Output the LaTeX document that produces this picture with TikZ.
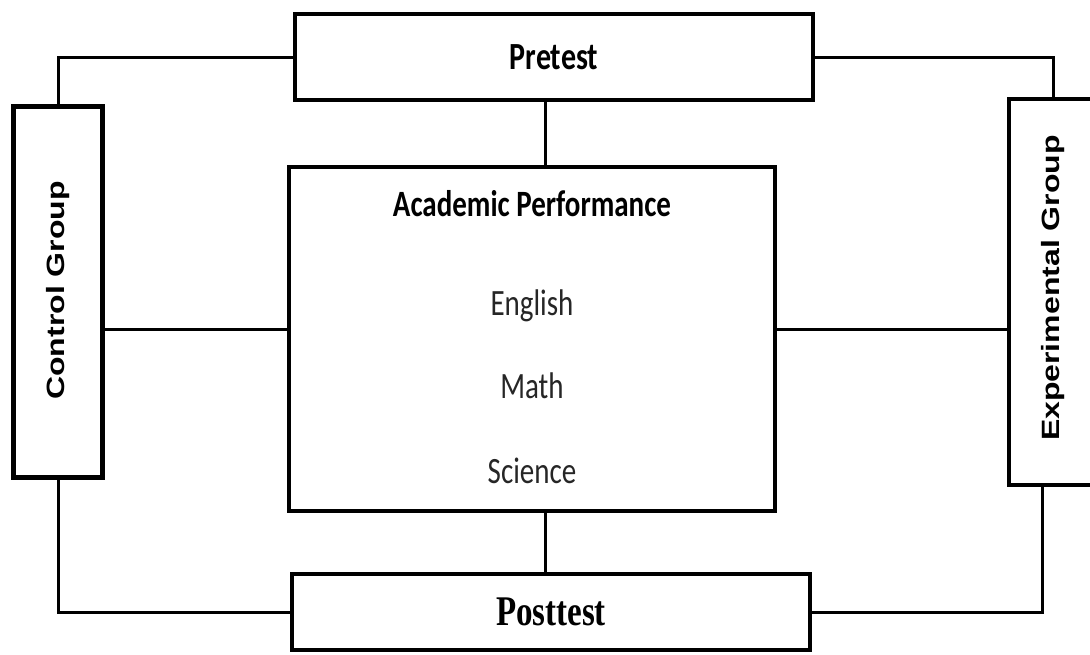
\documentclass[tikz,border=0pt]{standalone}
\usepackage{fontspec}
\usepackage{graphicx}
\newfontfamily\calib{Carlito}
\newfontfamily\arialf{Liberation Sans}
\newfontfamily\timesf{Liberation Serif}
\newcommand{\tall}[1]{\scalebox{1}[1.28]{#1}}
\newcommand{\upright}[1]{\scalebox{1}[1.28]{\rotatebox{90}{#1}}}
\tikzset{box/.style={rectangle,draw,line width=4.5pt,inner sep=0pt,align=center},side/.style={box,font=\arialf\bfseries\fontsize{25}{25}\selectfont},subject/.style={text=black!85,font=\calib\fontsize{29}{29}\selectfont},line/.style={line width=3pt}}

\begin{document}
\begin{tikzpicture}[x=1pt,y=-1pt]
\path[use as bounding box,clip] (0,0) rectangle (1090,654);
\node[box,minimum width=518pt,minimum height=86pt,font=\calib\bfseries\fontsize{30}{30}\selectfont] (pre) at (554,57) {\tall{Pretest}};
\node[box,minimum width=486pt,minimum height=344pt] (ap) at (532,339) {};
\node[box,minimum width=518pt,minimum height=76pt,font=\timesf\bfseries\fontsize{33}{33}\selectfont] (post) at (551,612) {\tall{Posttest}};
\node[side,minimum width=89pt,minimum height=371pt] (ctrl) at (58,292) {\raisebox{3pt}{\upright{Control Group}}};
\node[side,minimum width=88pt,minimum height=386pt] (exp) at (1053,292) {\raisebox{8pt}{\upright{Experimental Group}}};
% contents of the middle box
\node[font=\calib\bfseries\fontsize{29}{29}\selectfont] (title) at (532,204) {\tall{Academic Performance}};
\node[subject] (eng) at (532,306) {\tall{English}};
\node[subject] (math) at (532,386) {\tall{Math}};
\node[subject] (sci) at (532,471) {\tall{Science}};
% connectors
\coordinate (mid) at (545,329);
\draw[line] (pre.west) -| (ctrl.north);
\draw[line] (pre.east) -| (exp.north);
\draw[line] (pre.south -| mid) -- (ap.north -| mid);
\draw[line] (ap.south -| mid) -- (post.north -| mid);
\draw[line] (ctrl.east |- mid) -- (ap.west |- mid);
\draw[line] (ap.east |- mid) -- (exp.west |- mid);
\draw[line] (ctrl.south) |- (post.west);
\draw[line] (post.east) -| ([xshift=-11pt]exp.south);
\end{tikzpicture}
\end{document}
